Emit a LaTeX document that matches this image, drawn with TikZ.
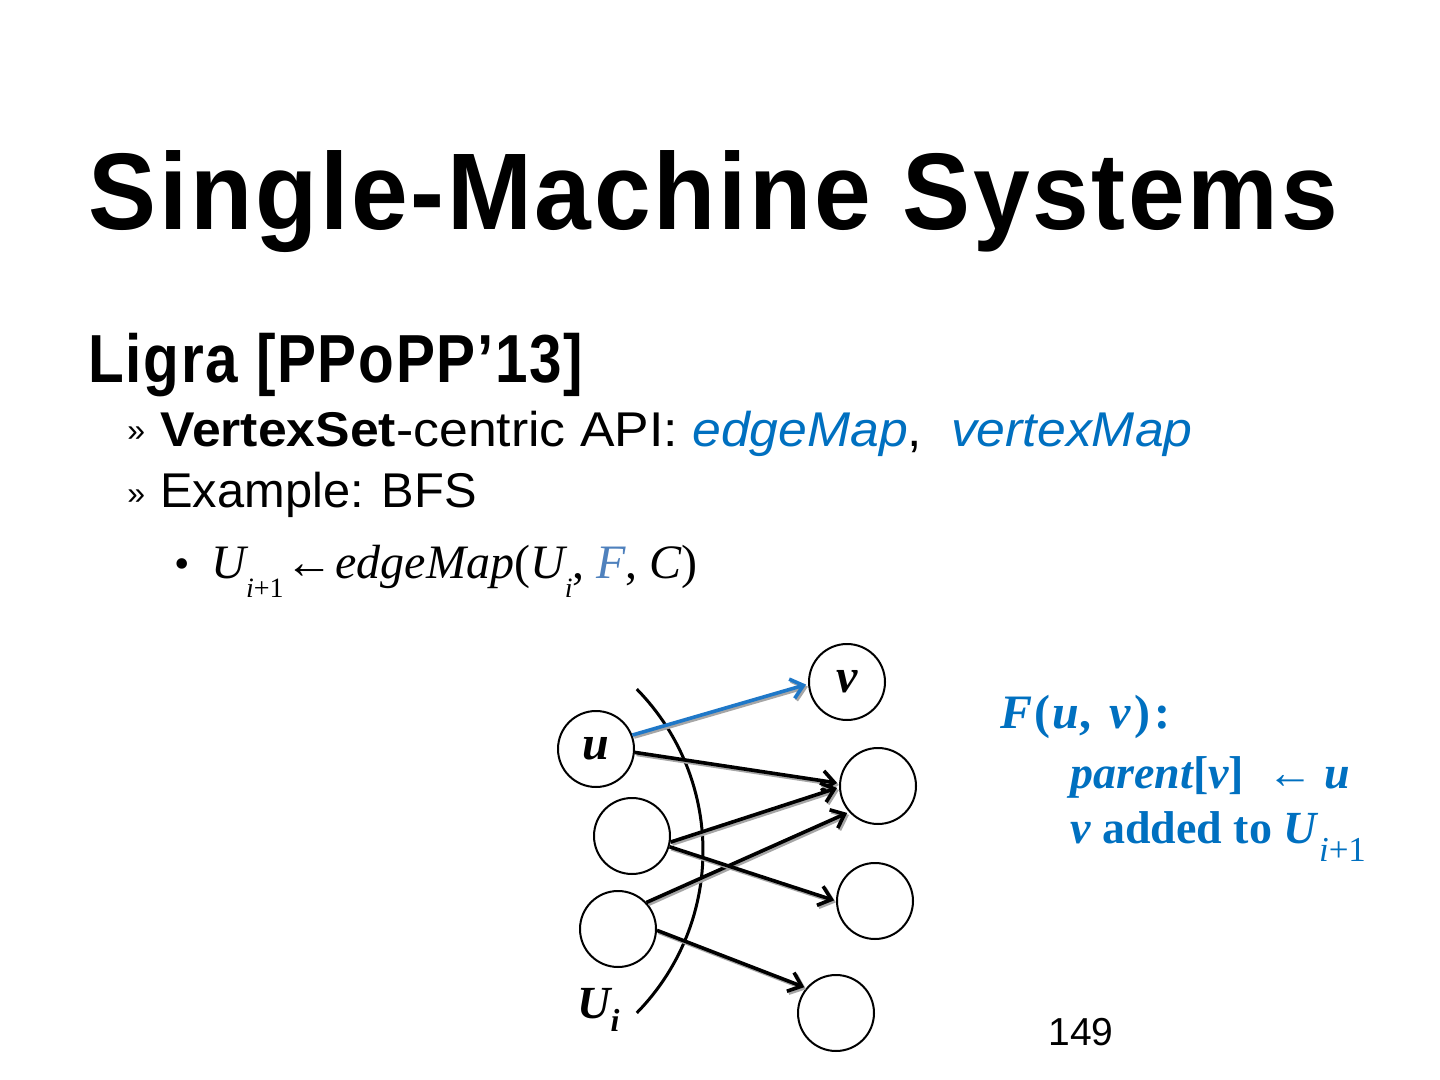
\documentclass[tikz,border=0pt]{standalone}
\usepackage{fontspec}
\setmainfont{Liberation Sans}
\newfontfamily\serif{Liberation Serif}
\newfontfamily\headfont[FakeStretch=0.935,LetterSpace=2.5]{Liberation Sans Bold}
\newfontfamily\subheadfont[FakeStretch=0.86,LetterSpace=2.5]{Liberation Sans Bold}
\newfontfamily\lineonefont[FakeStretch=1.06]{Liberation Sans}
\usetikzlibrary{arrows.meta}
\definecolor{tblue}{HTML}{0070C0}
\definecolor{fblue}{HTML}{4F81BD}
\definecolor{eblue}{HTML}{1F78C8}
\tikzset{
  txt/.style={inner sep=0pt, anchor=base west},
  vtx/.style={circle, draw, line width=1pt, minimum size=38pt, inner sep=0pt, font=\fontsize{24}{28}\selectfont\serif\bfseries\itshape},
  shadowed/.style={preaction={draw=black!35, line width=1.8pt, transform canvas={shift={(0.9pt,-1pt)}}}},
  edgearrow/.style={line width=1.8pt, -{Straight Barb[length=6pt,width=10pt]}, shorten >=1pt, shadowed},
}
\begin{document}
\begin{tikzpicture}[x=0.5pt,y=-0.5pt]
\useasboundingbox (0,0) rectangle (1440,1080);
\fill[white] (0,0) rectangle (1440,1080);
% headings
\node[txt] (title) at (88,230) {\fontsize{54.5}{60}\selectfont\headfont Single-Machine Systems};
\node[txt] (ligra) at (88,383) {\fontsize{34}{40}\selectfont\subheadfont Ligra [PPoPP’13]};
\node[txt] (b1) at (127,442) {\fontsize{16}{20}\selectfont »};
\node[txt] (l1) at (160,446) {\fontsize{24.4}{28}\selectfont\lineonefont\textbf{VertexSet}-centric API: {\color{tblue}\itshape edgeMap},\ \ {\color{tblue}\itshape vertexMap}};
\node[txt] (b2) at (127,504) {\fontsize{16}{20}\selectfont »};
\node[txt] (l2) at (160,508) {\fontsize{24.4}{28}\selectfont Example: BFS};
\node[txt] (b3) at (174,578) {\fontsize{22}{26}\selectfont\serif •};
\node[txt] (l3) at (211,578) {\fontsize{24}{30}\selectfont\serif\itshape U\raisebox{-0.4em}{\fontsize{14}{18}\selectfont i\upshape+1}\kern1pt\upshape←\kern1pt\itshape edgeMap\upshape(\itshape U\raisebox{-0.4em}{\fontsize{14}{18}\selectfont i}\upshape, {\color{fblue}\itshape F}, \itshape C\upshape)};
% F(u,v) block
\node[txt] (f1) at (1000,728) {\fontsize{24}{28}\selectfont\serif\bfseries\color{tblue}\itshape F\kern1pt\upshape(\kern1pt\itshape u\upshape,\kern3pt\ \itshape v\kern2pt\upshape)\kern2pt:};
\node[txt] (f2) at (1070,788) {\fontsize{23}{28}\selectfont\serif\bfseries\color{tblue}\itshape parent\upshape[\itshape v\upshape]\ \ {\mdseries←}\ \itshape u};
\node[txt] (f3) at (1070,843) {\fontsize{23}{28}\selectfont\serif\bfseries\color{tblue}\itshape v \upshape added to \itshape U\kern1pt\raisebox{-0.4em}{\fontsize{17.5}{20}\selectfont\mdseries i\upshape+1}};
% page number
\node[txt] (pg) at (1048,1045) {\fontsize{19.5}{22}\selectfont 149};
% frontier arc
\draw[line width=1.5pt] plot[domain=-44.5:44.5, samples=60] ({472+231*cos(\x)},{851+231*sin(\x)});
\node[txt] (ui) at (577,1018) {\fontsize{23}{28}\selectfont\serif\bfseries\itshape U\raisebox{-0.3em}{\fontsize{16}{18}\selectfont i}};
% vertices
\node[vtx] (u) at (596,749) {u};
\node[vtx] (a) at (632,836) {};
\node[vtx] (b) at (618,929) {};
\node[vtx] (v) at (847,682) {v};
\node[vtx] (r1) at (878,786) {};
\node[vtx] (r2) at (875,901) {};
\node[vtx] (r3) at (836,1013) {};
% edges
\draw[edgearrow, draw=eblue] (u.21) -- (v.183);
\draw[edgearrow] (u.-5) -- (r1.176);
\draw[edgearrow] (a.-9) -- (r1.182);
\draw[edgearrow] (b.43) -- (r1.222);
\draw[edgearrow] (a.-16) -- (r2.180);
\draw[edgearrow] (b.-2) -- (r3.140);
\end{tikzpicture}
\end{document}
